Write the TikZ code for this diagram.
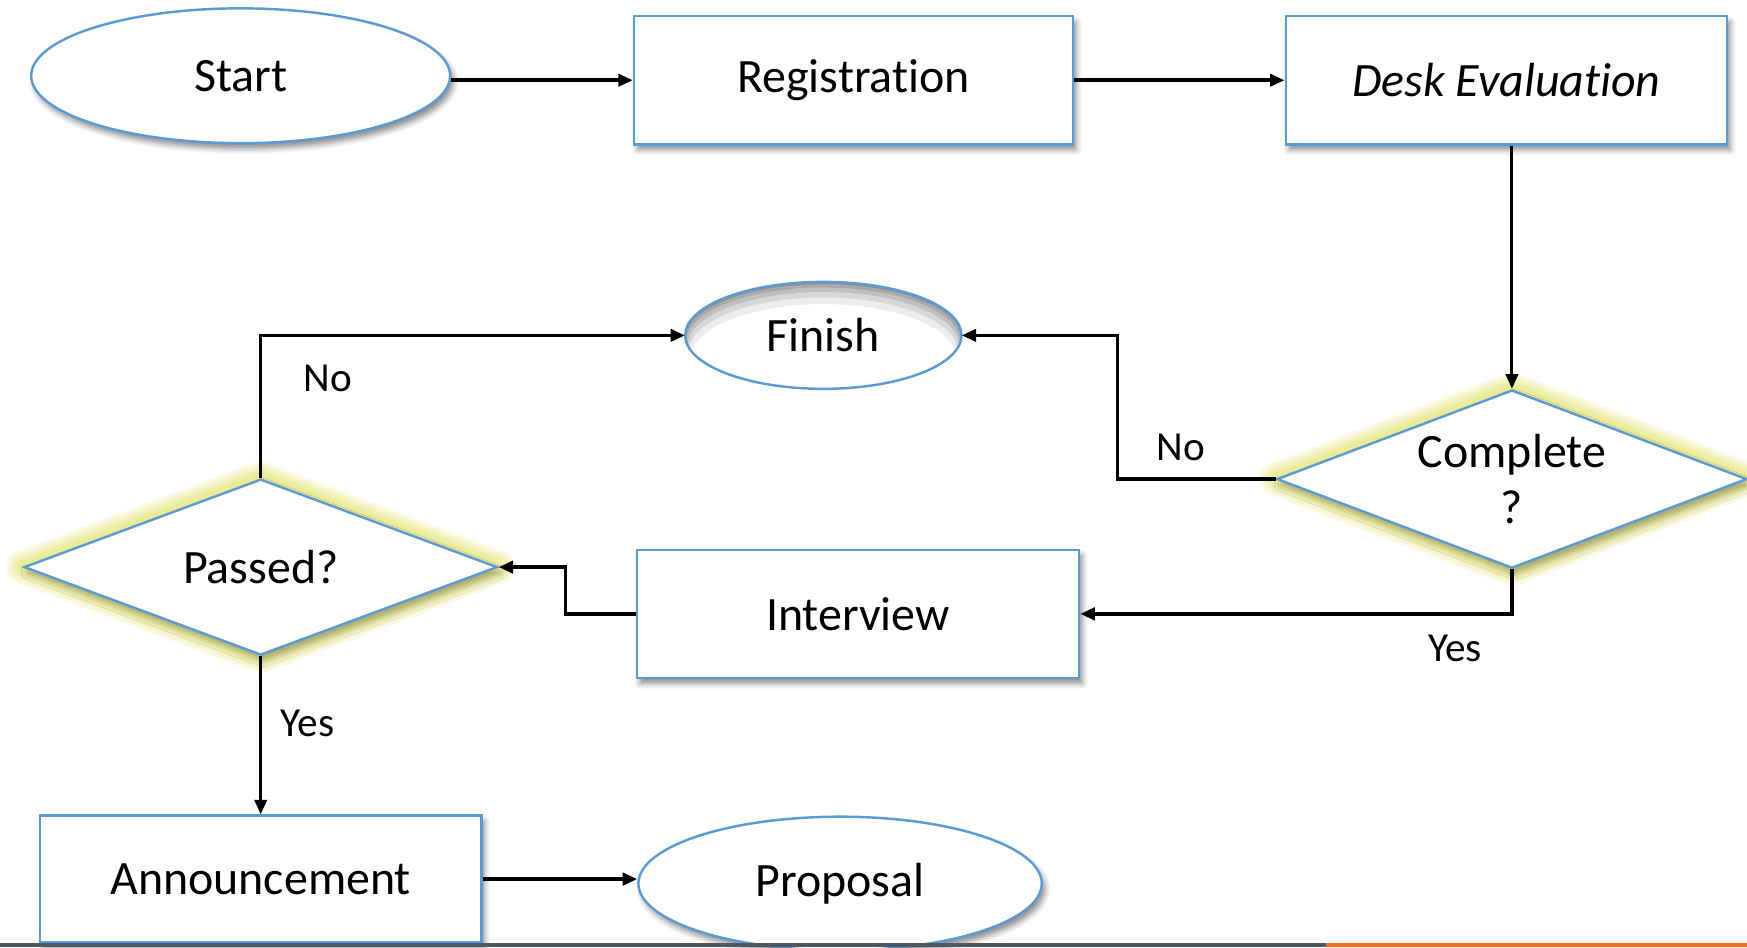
\documentclass[tikz,border=0pt]{standalone}
\usepackage{fontspec}
\setmainfont{Carlito}[Ligatures=NoCommon]
\usetikzlibrary{shapes.geometric,arrows.meta,shadows,shadows.blur,backgrounds,calc}
\definecolor{boxblue}{HTML}{5B9BD5}
\definecolor{glowyel}{HTML}{DCDC48}
\definecolor{bargray}{HTML}{4D5864}
\definecolor{barorange}{HTML}{F36C21}
\begin{document}
\begin{tikzpicture}[x=1pt,y=-1pt,
  mainfont/.style={font=\fontsize{43}{51}\selectfont},
  lblfont/.style={font=\fontsize{37}{44}\selectfont, inner sep=0pt},
  softshadow/.style={blur shadow={shadow xshift=3pt, shadow yshift=-5pt, shadow blur radius=5pt, shadow opacity=45}},
  procbox/.style={rectangle, draw=boxblue, line width=2.2pt, fill=white, inner sep=0pt, mainfont, softshadow},
  termnode/.style={ellipse, draw=boxblue, line width=2.2pt, fill=white, inner sep=0pt, mainfont},
  decnode/.style={diamond, aspect=2.6, draw=boxblue, line width=2.2pt, fill=white, inner sep=-12pt, mainfont, align=center,
     blur shadow={shadow xshift=3pt, shadow yshift=-5pt, shadow blur radius=6pt, shadow opacity=30}},
  conn/.style={draw=black, line width=3.2pt, -{Triangle[length=13pt,width=11pt]}},
  glowline/.style={draw=glowyel, line join=round}
]
\useasboundingbox (0,0) rectangle (1568,850);

% nodes
\node[termnode, minimum width=376pt, minimum height=121pt, softshadow] (start) at (216,68) {Start};
\node[procbox, minimum width=394pt, minimum height=115pt] (reg) at (766,72) {Registration};
\node[procbox, minimum width=396pt, minimum height=115pt] (desk) at (1352,72) {\itshape Desk Evaluation};
\node[decnode, minimum width=422pt, minimum height=160pt] (cp) at (1357,430) {Complete\\?};
\node[ellipse, inner sep=0pt, fill=white, minimum width=248pt, minimum height=96pt, mainfont] (fin) at (739,301) {};
\node[procbox, minimum width=397pt, minimum height=115pt] (iv) at (770,551) {Interview};
\node[decnode, minimum width=425pt, minimum height=158pt] (ps) at (234,509) {Passed?};
\node[procbox, minimum width=396pt, minimum height=114pt] (ann) at (234,789) {Announcement};
\node[termnode, minimum width=362pt, minimum height=120pt, softshadow] (prop) at (754,793) {Proposal};

% soft glow around the decisions
\begin{scope}[on background layer]
  \foreach \n in {cp,ps}{
    \foreach \w in {30,25,20,16,12,8}{
      \draw[glowline, line width=\w pt, opacity=0.13] (\n.north) -- (\n.east) -- (\n.south) -- (\n.west) -- cycle;
    }
  }
\end{scope}

% inner shadow of Finish (top)
\begin{scope}
  \clip (fin.center) ellipse [x radius=124pt, y radius=48pt];
  \foreach \s/\o in {2/0.14,5/0.12,9/0.11,14/0.09,20/0.07}{
    \fill[black, opacity=\o, even odd rule] ($(fin.center)+(-130,-55)$) rectangle ($(fin.center)+(130,55)$)
      ($(fin.center)+(0,\s)$) ellipse [x radius=124pt-0.25*\s pt, y radius=48pt];
  }
\end{scope}
\draw[boxblue, line width=2.2pt] (fin.center) ellipse [x radius=124pt, y radius=48pt];
\node[mainfont, inner sep=0pt] (fintext) at (fin.center) {Finish};

% connectors
\draw[conn] (start.east |- reg.west) -- (reg.west);
\draw[conn] (reg.east) -- (desk.west);
\draw[conn, line width=2.6pt] (desk.south -| cp.north) -- (cp.north);
\draw[conn] (cp.west) -- ++(-142,0) |- (fin.east);
\draw[conn] (cp.south) |- (iv.east);
\draw[conn] (iv.west) -- ++(-63,0) |- (ps.east);
\draw[conn] (ps.north) |- (fin.west);
\draw[conn, line width=2.6pt] (ps.south) -- (ann.north);
\draw[conn] (ann.east) -- (ann.east -| prop.west);

% labels
\node[lblfont] (lno1) at (1060,402) {No};
\node[lblfont] (lyes1) at (1306,582) {Yes};
\node[lblfont] (lno2) at (294,340) {No};
\node[lblfont] (lyes2) at (276,649) {Yes};

% bottom bar
\fill[bargray] (0,846) rectangle (1190,850);
\fill[barorange] (1190,846) rectangle (1568,850);
\end{tikzpicture}
\end{document}
